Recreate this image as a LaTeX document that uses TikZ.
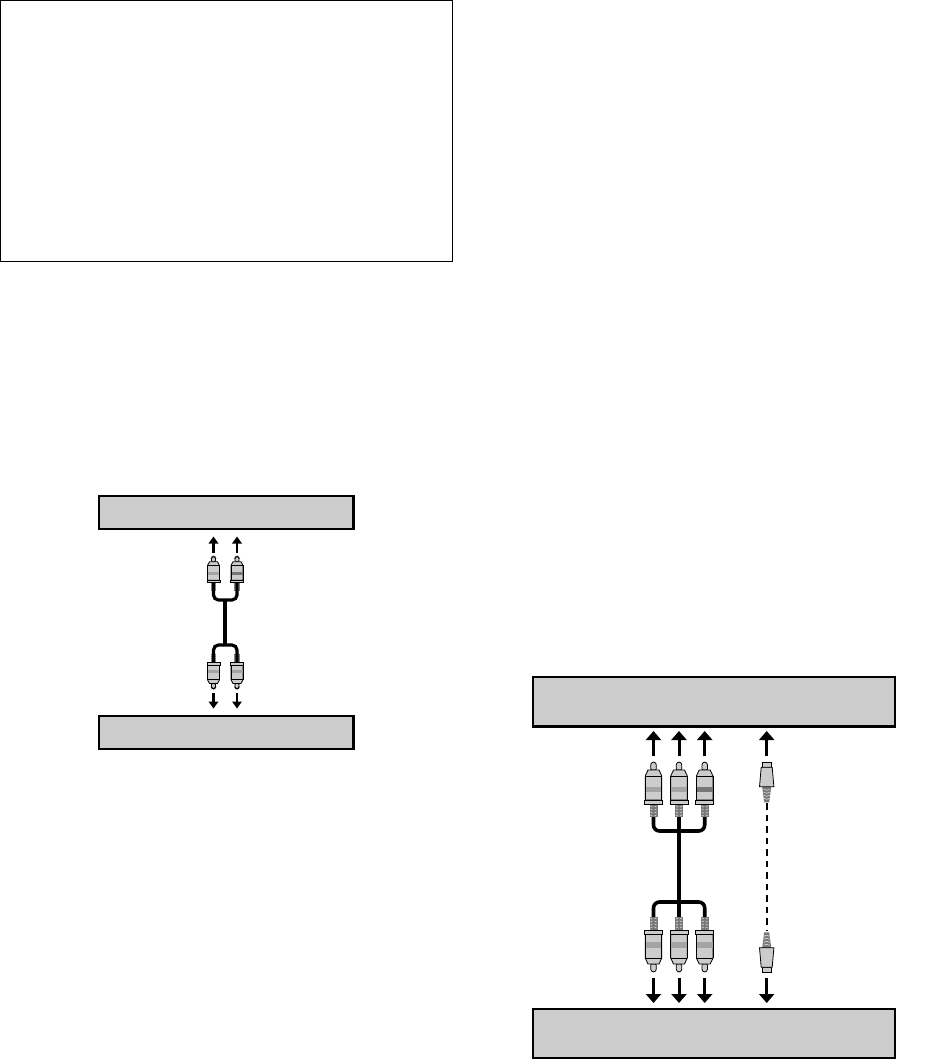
\documentclass[tikz,border=0pt]{standalone}
\usetikzlibrary{arrows.meta}
\definecolor{boxgray}{HTML}{CCCCCC}
\definecolor{plugdark}{HTML}{777777}
\definecolor{plugmid}{HTML}{A4A4A4}
\tikzset{
  x=1pt,y=-1pt,
  panel/.style={draw=black,fill=boxgray,line width=2.3pt,inner sep=0pt,outer sep=0pt},
  frame/.style={draw=black,line width=1pt,fill=white},
  bigarrow/.style={draw=black,line width=3pt,-{Triangle[width=15pt,length=9pt]}},
  smallarrow/.style={draw=black,line width=2.6pt,-{Triangle[width=9.5pt,length=7pt]}},
  cable/.style={draw=black,line width=3.6pt,rounded corners=6pt},
  smallcable/.style={draw=black,line width=3.2pt,rounded corners=5pt},
  sdash/.style={draw=black,line width=2pt,dash pattern=on 6.5pt off 5pt},
  plugline/.style={draw=black,line width=.8pt,fill=boxgray},
  rca/.pic={
    \fill[plugdark] (-4,42) rectangle (4,55);
    \foreach \yy in {44,47,50,53}{\draw[boxgray,line width=.7pt] (-3,\yy) -- (-1,\yy+1) (1,\yy+1) -- (3,\yy);}
    \draw[plugline,rounded corners=1pt] (-2.8,8) -- (-2.8,2) -- (-1,0) -- (1,0) -- (2.8,2) -- (2.8,8) -- cycle;
    \draw[plugline] (-5.5,8) -- (5.5,8) -- (8.3,14) -- (8.3,38) -- (-8.3,38) -- (-8.3,14) -- cycle;
    \fill[#1] (-8.3,24.5) rectangle (8.3,30);
    \draw[black,line width=.8pt] (-8.3,14) -- (8.3,14) (-8.3,14) -- (-8.3,38) (8.3,14) -- (8.3,38);
    \draw[plugline] (-9,38) rectangle (9,42);
    \coordinate (-neck) at (0,42);
    \coordinate (-tail) at (0,55);
  },
  svideo/.pic={
    \fill[plugdark] (-4.5,24.5) -- (4.5,24.5) -- (2.5,40) -- (-2.5,40) -- cycle;
    \foreach \yy in {27,30,33,36}{\draw[boxgray,line width=.8pt] (-3,\yy) -- (0,\yy+1) -- (3,\yy);}
    \draw[plugline] (-4.5,0) -- (4.5,0) -- (4.5,5) -- (-4.5,5) -- cycle;
    \draw[plugline] (-5.5,5) -- (5.5,5) -- (7.2,24.5) -- (-7.2,24.5) -- cycle;
    \coordinate (-tail) at (0,41);
  }
}
\begin{document}
\begin{tikzpicture}
\useasboundingbox (0,0) rectangle (941,1061);
% outer blank frame
\path[frame] (0.5,0.5) rectangle (452.7,261);
% grey panels
\node[panel,minimum width=254.5pt,minimum height=33pt] (ptop) at (226.2,512.7) {};
\node[panel,minimum width=254.5pt,minimum height=33pt] (pbot) at (226.2,732.7) {};
\node[panel,minimum width=362pt,minimum height=49.5pt] (qtop) at (714,701.8) {};
\node[panel,minimum width=362pt,minimum height=49.5pt] (qbot) at (714,1033.5) {};
% small pair: plugs
\pic[xscale=.72,yscale=.62] (sa) at (213.5,556.7) {rca=plugmid};
\pic[xscale=.72,yscale=.62] (sb) at (237,556.7) {rca=plugdark};
\pic[xscale=.72,yscale=-.62] (sc) at (213.5,688.5) {rca=plugmid};
\pic[xscale=.72,yscale=-.62] (sd) at (237,688.5) {rca=plugmid};
% small pair: cables
\coordinate (sj1) at (225,600);
\coordinate (sj2) at (225,645);
\draw[smallcable] (sa-neck) |- (sj1) -| (sb-neck);
\draw[smallcable] (sc-neck) |- (sj2) -| (sd-neck);
\draw[smallcable] (sj1) -- (sj2);
% small pair: arrows
\coordinate (sa1) at (213.5,553); \coordinate (sa2) at (213.5,536.5);
\coordinate (sb1) at (237,553);   \coordinate (sb2) at (237,536.5);
\coordinate (sc1) at (213.5,693); \coordinate (sc2) at (213.5,708.5);
\coordinate (sd1) at (237,693);   \coordinate (sd2) at (237,708.5);
\draw[smallarrow] (sa1) -- (sa2);
\draw[smallarrow] (sb1) -- (sb2);
\draw[smallarrow] (sc1) -- (sc2);
\draw[smallarrow] (sd1) -- (sd2);
% large triple: plugs
\pic (ba) at (653.5,762) {rca=plugmid};
\pic (bb) at (679,762) {rca=plugmid};
\pic (bc) at (704.7,762) {rca=plugdark};
\pic[yscale=-1] (bd) at (653.5,972) {rca=plugmid};
\pic[yscale=-1] (be) at (679,972) {rca=plugmid};
\pic[yscale=-1] (bf) at (704.7,972) {rca=plugmid};
% large triple: cables
\coordinate (bj1) at (679,831);
\coordinate (bj2) at (679,902);
\draw[cable] (ba-tail) |- (bj1) -| (bc-tail);
\draw[cable] (bd-tail) |- (bj2) -| (bf-tail);
\draw[cable] (bb-tail) -- (be-tail);
% large triple: arrows
\foreach \nm/\xx in {a/653.5,b/679,c/704.7,d/766.7}{
  \coordinate (up\nm1) at (\xx,756);  \coordinate (up\nm2) at (\xx,731);
  \coordinate (dn\nm1) at (\xx,978);  \coordinate (dn\nm2) at (\xx,1003);
  \draw[bigarrow] (up\nm1) -- (up\nm2);
  \draw[bigarrow] (dn\nm1) -- (dn\nm2);
}
% S-video
\pic (va) at (766.7,762.3) {svideo};
\pic[yscale=-1] (vb) at (766.7,972.3) {svideo};
\draw[sdash] (va-tail) -- (vb-tail);
\end{tikzpicture}
\end{document}
